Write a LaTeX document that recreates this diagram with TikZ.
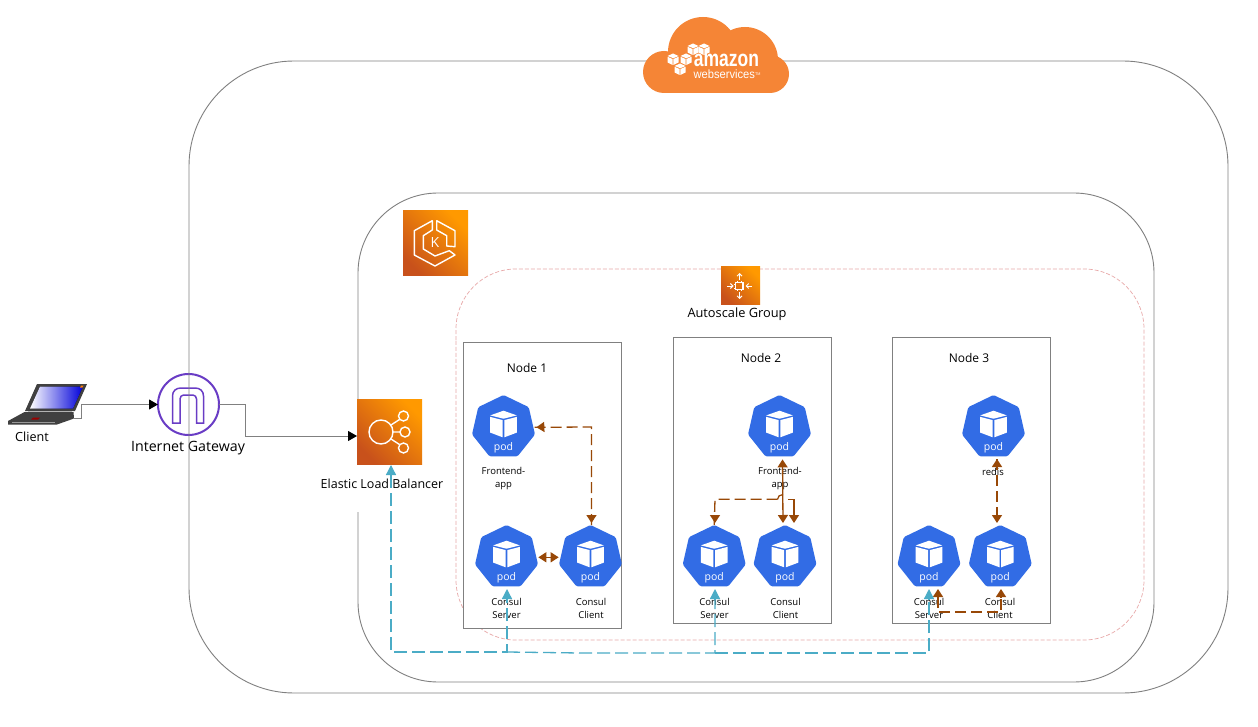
\documentclass[tikz,border=0pt]{standalone}
\usepackage{fontspec}
\setmainfont{Open Sans}
\newfontfamily\awsfont{Liberation Sans}
\usetikzlibrary{arrows.meta,shapes.geometric,calc}
\definecolor{framegray}{HTML}{808080}
\definecolor{podblue}{HTML}{326CE5}
\definecolor{awsorange}{HTML}{F58536}
\definecolor{gwpurple}{HTML}{693CC5}
\definecolor{brownline}{HTML}{984807}
\definecolor{tealline}{HTML}{4BACC6}
\definecolor{pinkline}{HTML}{E8A9A9}
\definecolor{iconlo}{HTML}{C8511B}
\definecolor{iconhi}{HTML}{FF9900}
\tikzset{
  frame/.style={draw=framegray,line width=0.9pt},
  nodebox/.style={draw=framegray,line width=0.9pt,fill=white},
  podshape/.style={regular polygon,regular polygon sides=7,minimum size=64.6pt,inner sep=0pt,outer sep=0pt,fill=podblue,rounded corners=1.5pt},
  podlabel/.style={font=\fontsize{9.5}{13}\selectfont,align=center,inner sep=0pt,text=black},
  boxlabel/.style={font=\fontsize{12}{14}\selectfont,inner sep=0pt,text=black},
  awsicon/.style={rectangle,inner sep=0pt,outer sep=0pt,left color=iconlo,right color=iconhi,shading angle=135},
  iconline/.style={draw=white,line width=1.4pt,fill=none},
  link/.style={color=framegray,line width=0.9pt,-{Triangle[width=10pt,length=9pt,fill=black,color=black]}},
  browntip/.style={-{Triangle[width=10pt,length=8pt]}},
  browntips/.style={{Triangle[width=10pt,length=8pt]}-{Triangle[width=10pt,length=8pt]}},
  brownsolid/.style={color=brownline,line width=1.3pt},
  browndash/.style={color=brownline,line width=1.3pt,line cap=butt,dash pattern=on 11pt off 5pt},
  tealdash/.style={color=tealline,line width=1.3pt,line cap=butt,dash pattern=on 13pt off 5pt},
  tealsolid/.style={color=tealline,line width=1.3pt},
  tealtip/.style={-{Triangle[width=10pt,length=10pt]}},
}
\newcommand{\podnode}[3]{%
  \node[podshape] (#1) at (#2,#3) {};
  \begin{scope}[shift={(#1.center)}]
    \fill[white] (0,-16.6) -- (13.3,-11.9) -- (0,-8.6) -- (-13.3,-11.9) -- cycle;
    \fill[white] (-13.3,-10.4) -- (-0.8,-7.2) -- (-0.8,10) -- (-13.3,5.3) -- cycle;
    \fill[white] (13.3,-10.4) -- (0.8,-7.2) -- (0.8,10) -- (13.3,5.3) -- cycle;
    \node[text=white,inner sep=0pt,font=\fontsize{10.5}{12}\selectfont] (#1-txt) at (0,20) {pod};
  \end{scope}}
\begin{document}
\begin{tikzpicture}[x=1pt,y=-1pt]
\useasboundingbox (0,0) rectangle (1258,727);
\fill[white] (0,0) rectangle (1258,727);

% Laptop
\fill[black!75] (37,384) -- (87,384) -- (75,411) -- (25,411) -- cycle;
\fill[left color=white,right color=blue!85!black] (40,386.5) -- (83,386.5) -- (73,408.5) -- (30,408.5) -- cycle;
\fill[orange] (81,385.5) -- (83.5,385.5) -- (82.5,387.5) -- (80,387.5) -- cycle;
\fill[black!30] (28,411) -- (72,411) -- (72,412.5) -- (28,412.5) -- cycle;
\fill[black!75] (24.5,412) -- (73.5,412) -- (74,418.5) -- (57,424.5) -- (8,424.5) -- (8,421) -- cycle;
\draw[black!40,line width=0.6pt] (12,422) -- (55,422);
\fill[red!60!black] (33,417.5) -- (40,417.5) -- (38,419.5) -- (31,419.5) -- cycle;
\coordinate (lap) at (73,418);
\node[inner sep=0pt,font=\fontsize{12.6}{14}\selectfont] (clientlbl) at (32,436.5) {Client};

% Internet gateway
\node[circle,draw=gwpurple,line width=2pt,minimum size=61pt,inner sep=0pt,outer sep=0pt] (gw) at (188.5,404.5) {};
\draw[gwpurple,line width=1.5pt] (172.5,423) -- (172.5,396) .. controls (172.5,391) and (176,388) .. (181,388) -- (195,388) .. controls (200,388) and (203.5,391) .. (203.5,396) -- (203.5,423) -- (196.5,423) -- (196.5,399) .. controls (196.5,397) and (195,395) .. (193,395) -- (183.5,395) .. controls (181.5,395) and (180,397) .. (180,399) -- (180,423) -- cycle;
\node[inner sep=0pt,font=\fontsize{14.2}{16}\selectfont] (gwlbl) at (188,448) {Internet Gateway};

% Frames
\draw[frame,rounded corners=105pt] (189,300) -- (189,61) -- (1228,61) -- (1228,693) -- (189,693) -- (189,300);
\draw[frame,rounded corners=80pt] (358,399) -- (358,193) -- (1154,193) -- (1154,682) -- (358,682) -- (358,512);
\draw[pinkline,line width=0.7pt,dash pattern=on 4pt off 2pt,rounded corners=60pt] (456,400) -- (456,269) -- (1144,269) -- (1144,640) -- (456,640) -- cycle;

% Cloud
\fill[awsorange] (664,72) circle (21);
\fill[awsorange] (703,52) circle (35);
\fill[awsorange] (745,60) circle (33);
\fill[awsorange] (770,74) circle (19);
\fill[awsorange] (664,70) rectangle (770,93);
\foreach \cx/\cy in {693/49,704/49,673/59,686/59,680/69}{
  \fill[white] (\cx,\cy-5.5) -- (\cx+5.5,\cy-3) -- (\cx+0.4,\cy-0.8) -- (\cx-5.5,\cy-3) -- cycle;
  \fill[white] (\cx-5.5,\cy-2.2) -- (\cx-0.4,\cy) -- (\cx-0.4,\cy+6) -- (\cx-5.5,\cy+3.5) -- cycle;
  \fill[white] (\cx+5.5,\cy-2.2) -- (\cx+0.4,\cy) -- (\cx+0.4,\cy+6) -- (\cx+5.5,\cy+3.5) -- cycle;
}
\node[text=white,inner sep=0pt,xscale=0.76,font=\awsfont\bfseries\fontsize{23}{24}\selectfont] (awsname) at (726.5,60.5) {amazon};
\node[text=white,inner sep=0pt,xscale=0.93,font=\awsfont\fontsize{12}{13}\selectfont] (awssub) at (727,74.5) {webservices\raisebox{3pt}{\fontsize{4}{4}\selectfont TM}};

% AWS icons
\node[awsicon,minimum size=65pt] (eks) at (435.5,243.5) {};
\draw[iconline,line cap=round,line join=round] (432.3,220.7) -- (414.3,230.7) -- (414.3,255) -- (435,266) -- (455,255) -- (449.3,250.7) -- (435,256) -- (423.3,249) -- (423.3,235.7) -- (432.3,230) -- cycle;
\draw[iconline,line cap=round,line join=round] (436.7,220.7) -- (455,230.7) -- (455,246.7) -- (446.7,246) -- (446.7,235.7) -- (436.7,230) -- cycle;
\node[text=white,inner sep=0pt,font=\fontsize{14}{16}\selectfont] (eksk) at (435,243) {K};

\node[awsicon,minimum size=65pt] (elb) at (389.5,431.5) {};
\draw[iconline] (381,432) circle (12);
\draw[iconline] (403.5,416) circle (5) (405,432) circle (5) (403.5,448) circle (5);
\draw[iconline] (391,425) -- (399.5,419.5) (393,432) -- (400,432) (391,439) -- (399.5,444.5);
\node[inner sep=0pt,font=\fontsize{12.5}{14}\selectfont] (elblbl) at (382,484) {Elastic Load Balancer};

\node[awsicon,minimum width=39pt,minimum height=38pt] (asg) at (740.5,286) {};
\draw[draw=white,line width=1.1pt] (735.8,282.4) rectangle (743,289.6);
\draw[white,line width=0.7pt] (737.5,281) -- (737.5,282.4) (741.5,281) -- (741.5,282.4) (737.5,289.6) -- (737.5,291) (741.5,289.6) -- (741.5,291) (734.4,284) -- (735.8,284) (734.4,288) -- (735.8,288) (743,284) -- (744.4,284) (743,288) -- (744.4,288);
\draw[white,line width=0.9pt,-{Straight Barb[length=2.5pt,width=5pt]}] (739.5,280) -- (739.5,273);
\draw[white,line width=0.9pt,-{Straight Barb[length=2.5pt,width=5pt]}] (739.5,292) -- (739.5,299);
\draw[white,line width=0.9pt,-{Straight Barb[length=2.5pt,width=5pt]}] (727,286) -- (733.5,286);
\draw[white,line width=0.9pt,-{Straight Barb[length=2.5pt,width=5pt]}] (752,286) -- (745.5,286);
\node[inner sep=0pt,font=\fontsize{12.8}{14}\selectfont] (asglbl) at (737,314) {Autoscale Group};

% Worker node boxes
\node[nodebox,rectangle,minimum width=158pt,minimum height=286pt,inner sep=0pt,outer sep=0pt] (n1) at (542,485) {};
\node[nodebox,rectangle,minimum width=158pt,minimum height=286pt,inner sep=0pt,outer sep=0pt] (n2) at (752,480) {};
\node[nodebox,rectangle,minimum width=158pt,minimum height=286pt,inner sep=0pt,outer sep=0pt] (n3) at (971,480) {};
\node[boxlabel] (n1lbl) at (527,367.5) {Node 1};
\node[boxlabel] (n2lbl) at (761,357.5) {Node 2};
\node[boxlabel] (n3lbl) at (969,357.5) {Node 3};

% Pods
\podnode{f1}{503.5}{427.3}
\podnode{s1}{506.5}{557.3}
\podnode{c1}{590.5}{557.3}
\podnode{f2}{779.5}{427.3}
\podnode{s2}{714.2}{557.3}
\podnode{c2}{785}{557.3}
\podnode{r3}{993.5}{427.3}
\podnode{s3}{929}{557.3}
\podnode{c3}{1000.3}{557.3}

\node[podlabel] (f1lbl) at (503.5,478.5) {Frontend-\\app};
\node[podlabel] (s1lbl) at (506.5,608) {Consul\\Server};
\node[podlabel] (c1lbl) at (591,608) {Consul\\Client};
\node[podlabel] (f2lbl) at (780,478.5) {Frontend-\\app};
\node[podlabel] (s2lbl) at (714.5,608) {Consul\\Server};
\node[podlabel] (c2lbl) at (785.5,608) {Consul\\Client};
\node[podlabel] (r3lbl) at (993,472) {redis};
\node[podlabel] (s3lbl) at (929,608) {Consul\\Server};
\node[podlabel] (c3lbl) at (1000,608) {Consul\\Client};

% Gray links
\draw[link] (lap) -- ++(8.5,0) |- (gw.west);
\draw[link] (gw.east) -- ++(26,0) |- ([yshift=-4.5pt]elb.west);

% Brown connectors: dashed run, then solid arrow ends
\coordinate (h1) at (591.5,427);
\draw[browndash] ([xshift=1pt]c1.north) -- (h1) -- (f1.east);
\draw[brownsolid,browntip] ($(h1)+(-48,0)$) -- ($(f1.east)+(3,0)$);
\draw[brownsolid,browntip] ($(c1.north)+(1,-9)$) -- ($(c1.north)+(1,-2)$);
\draw[brownsolid,browntips,shorten <=2pt,shorten >=2pt] (s1.east) -- (c1.west);

\coordinate (h2a) at (715,499.3);
\coordinate (h2b) at (777.5,499.3);
\coordinate (h2c) at (788,499.3);
\coordinate (h2d) at (794,499.3);
\draw[brownsolid,browntips,shorten <=3pt,shorten >=2pt] ([xshift=3pt]f2.south) -- ([xshift=-2pt]c2.north);
\draw[browndash] (h2b) -- (h2a) -- (s2.north);
\draw[brownsolid,browntip,shorten >=2pt] ($(s2.north)+(0.8,-9)$) -- ($(s2.north)+(0.8,0)$);
\draw[brownsolid] (h2b) .. controls (777.5,496.5) and (780,494.5) .. (783,494.5);
\draw[brownsolid] (h2c) -- (h2d);
\draw[brownsolid,browntip,shorten >=2pt] (h2d) -- ([xshift=9pt]c2.north);

\coordinate (r3a) at (997,459);
\coordinate (r3b) at (997,523);
\draw[browndash] (r3a) -- (r3b);
\draw[brownsolid,browntip] (997,467) -- (r3a);
\draw[brownsolid,browntip] (997,515) -- (r3b);

\coordinate (b3a) at (938,612);
\coordinate (b3b) at (1001,612);
\draw[browndash] (938,597) -- (b3a) -- (b3b) -- (1001,597);
\draw[brownsolid,browntip] (938,597) -- (938,589);
\draw[brownsolid,browntip] (1001,597) -- (1001,589);

% Teal connectors
\coordinate (t1a) at (391,652);
\coordinate (t1b) at (507,652);
\coordinate (t3a) at (580,653);
\coordinate (t2b) at (715,653);
\coordinate (t3b) at (929,653);
\draw[tealdash] (391,475) -- (t1a) -- (t1b) -- (507,599);
\draw[tealdash] (t1b) -- (t3a) -- (t2b) -- (715,599);
\draw[tealdash] (t2b) -- (t3b) -- (929,599);
\draw[tealsolid,tealtip] (391,475) -- (391,465);
\draw[tealsolid,tealtip] (507,599) -- (507,589);
\draw[tealsolid,tealtip] (715,599) -- (715,589);
\draw[tealsolid,tealtip] (929,599) -- (929,589);
\end{tikzpicture}
\end{document}
